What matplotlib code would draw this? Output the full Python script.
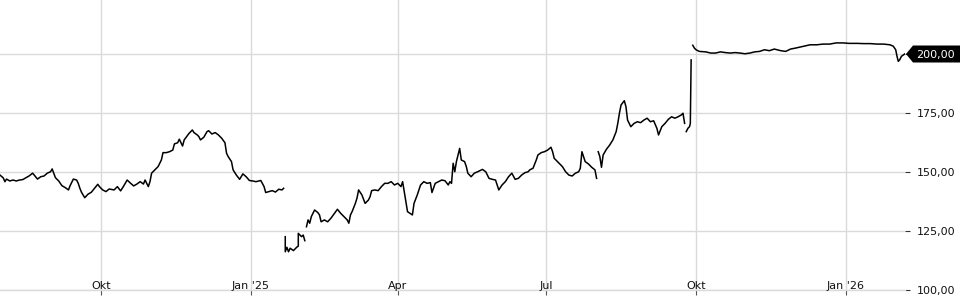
import numpy as np
import pandas as pd
import matplotlib
matplotlib.use("Agg")
import matplotlib.pyplot as plt
import matplotlib.transforms as mtransforms
from matplotlib.patches import Polygon

# ------------------------------
# Data
# day offsets are counted from 31 Jul 2024, None = gap in the price feed
# ------------------------------
start_date = pd.Timestamp("2024-07-31")

days = [
    # Aug 2024 - Jan 2025
    0, 2, 3, 4, 6, 8, 10, 12, 14, 16, 18, 20, 21, 23, 25, 27, 29, 31, 32, 33,
    34, 36, 38, 40, 42, 43, 45, 47, 48, 49, 50, 52, 54, 56, 58, 60, 61, 63, 65, 67,
    70, 72, 74, 76, 78, 80, 82, 84, 86, 88, 89, 91, 92, 93, 95, 97, 99, 100, 102, 104,
    106, 107, 109, 110, 112, 113, 116, 118, 119, 121, 122, 123, 125, 127, 128, 130, 132, 134, 136, 138,
    139, 140, 142, 143, 145, 147, 149, 151, 153, 155, 157, 160, 162, 163, 165, 167, 169, 171, 173, 174,
    174,
    # late Jan / Feb 2025
    175, 175, 176, 177, 178, 180, 182, 183, 183, 185, 186, 187,
    187,
    # Feb - Aug 2025
    188, 189, 190, 191, 193, 195, 196, 197, 199, 201, 203, 206, 207, 209, 211, 213, 214, 215, 216, 218,
    219, 220, 222, 224, 226, 227, 228, 230, 232, 234, 236, 238, 240, 242, 244, 246, 247, 249, 250, 253,
    254, 256, 258, 260, 262, 264, 265, 267, 269, 271, 273, 275, 276, 277, 278, 279, 280, 282, 283, 285,
    286, 287, 289, 291, 293, 296, 298, 300, 302, 304, 306, 308, 310, 312, 314, 316, 318, 320, 322, 324,
    325, 327, 329, 330, 332, 334, 336, 338, 339, 340, 343, 345, 347, 349, 351, 353, 355, 356, 357, 359,
    361, 363, 365, 366,
    366,
    # Aug - Sep 2025
    367, 368, 369, 370, 372, 374, 376, 378, 379, 380, 381, 383, 384, 385, 387, 389, 391, 393, 395, 397,
    399, 401, 403, 404, 406, 408, 410, 412, 414, 416, 418, 419, 420,
    420,
    421, 422, 423, 423.5, 424,
    424,
    # Oct 2025 - Feb 2026
    425, 426, 427, 429, 433, 436, 439, 442, 445, 448, 451, 454, 457, 460, 463, 466, 469, 472, 475, 479,
    482, 485, 488, 493, 497, 501, 505, 509, 513, 517, 521, 526, 530, 534, 538, 542, 546, 548, 549.5, 550.3,
    551.1, 552, 553, 555,
]

prices = [
    148.7, 147.5, 145.9, 147.0, 146.2, 146.6, 146.2, 146.6, 146.8, 147.6, 148.4, 149.5, 148.7, 147.0, 148.0, 148.3, 149.5, 150.1, 151.3, 149.5,
    147.6, 146.2, 144.2, 143.4, 142.4, 144.2, 147.0, 146.6, 145.2, 143.1, 141.4, 139.1, 140.6, 141.4, 143.1, 144.8, 143.8, 142.4, 141.7, 142.8,
    142.4, 143.8, 142.0, 144.2, 146.6, 145.3, 144.1, 144.9, 145.9, 144.9, 146.6, 143.8, 145.9, 149.5, 150.9, 152.3, 155.1, 158.2, 158.2, 158.6,
    159.3, 161.9, 162.4, 163.9, 161.0, 163.6, 166.4, 167.8, 166.7, 165.7, 165.0, 163.6, 164.7, 167.1, 167.5, 166.1, 166.7, 165.7, 164.3, 162.4,
    157.9, 156.5, 154.4, 150.9, 148.7, 146.9, 149.2, 148.0, 146.4, 146.2, 145.9, 146.4, 143.8, 141.3, 141.7, 142.1, 141.5, 142.7, 142.4, 143.1,
    None,
    122.6, 116.2, 118.1, 116.2, 117.7, 116.7, 118.1, 118.6, 124.0, 122.6, 123.3, 120.9,
    None,
    126.8, 129.7, 128.3, 131.1, 133.9, 132.8, 131.8, 128.9, 129.7, 128.9, 130.4, 133.2, 134.2, 132.5, 131.1, 129.7, 128.3, 131.8, 133.2, 136.7,
    138.9, 142.4, 140.3, 136.7, 138.1, 139.5, 142.1, 142.4, 142.1, 143.8, 145.2, 145.2, 145.9, 144.5, 145.2, 143.8, 145.9, 137.5, 133.2, 131.8,
    136.7, 140.3, 144.5, 145.9, 145.2, 145.5, 141.3, 145.2, 145.9, 146.6, 146.3, 144.5, 145.9, 145.2, 153.7, 150.1, 154.4, 160.0, 155.1, 154.4,
    152.5, 149.5, 148.0, 149.5, 150.1, 151.1, 150.1, 147.3, 146.9, 146.6, 142.4, 144.5, 145.9, 148.0, 149.5, 146.9, 147.3, 148.7, 149.7, 150.1,
    150.9, 151.6, 155.1, 157.2, 158.2, 158.6, 159.3, 160.5, 158.6, 155.8, 153.7, 152.3, 150.1, 148.7, 148.3, 149.5, 150.1, 151.6, 158.6, 154.4,
    153.4, 152.0, 150.9, 147.3,
    None,
    158.6, 156.5, 152.0, 157.2, 159.6, 161.4, 163.6, 167.1, 170.6, 174.9, 178.4, 180.2, 177.7, 172.0, 169.2, 170.6, 171.3, 170.9, 172.0, 172.8,
    171.3, 171.7, 168.5, 165.7, 169.2, 170.6, 172.3, 173.4, 172.8, 173.4, 174.2, 174.9, 170.6,
    None,
    167.1, 168.5, 169.2, 170.6, 197.5,
    None,
    203.7, 202.5, 201.8, 201.1, 200.9, 200.4, 200.4, 200.9, 200.6, 200.4, 200.6, 200.4, 200.1, 200.4, 200.9, 201.1, 201.8, 201.4, 202.1, 201.4,
    201.1, 202.1, 202.5, 203.3, 203.9, 203.9, 204.2, 204.2, 204.7, 204.7, 204.5, 204.5, 204.4, 204.4, 204.2, 204.2, 203.9, 203.3, 201.8, 199.0,
    196.9, 197.6, 199.0, 200.0,
]

tick_dates = ["2024-10-01", "2025-01-01", "2025-04-01", "2025-07-01", "2025-10-01", "2026-01-01"]
tick_labels = ["Okt", "Jan '25", "Apr", "Jul", "Okt", "Jan '26"]
y_ticks = [100, 125, 150, 175, 200]
last_price = 200.0

# ------------------------------
# Plot
# ------------------------------
W, H = 960, 300
fig = plt.figure(figsize=(W / 100, H / 100), dpi=100)
ax = fig.add_axes([0, 10 / H, 905 / W, 290 / H])

dates = start_date + pd.to_timedelta(np.array(days, dtype=float), unit="D")
values = np.array(prices, dtype=float)

grid_color = "#dadada"
ax.plot(dates, values, color="black", linewidth=1.1, zorder=3)

ax.set_xlim(start_date, start_date + pd.Timedelta(days=555.2))
ax.set_ylim(100, 100 + 290 * 25 / 59)

ax.set_xticks(pd.to_datetime(tick_dates))
ax.set_xticklabels([])
ax.set_yticks(y_ticks)
ax.set_yticklabels([f"{v:.2f}".replace(".", ",") for v in y_ticks])

ax.grid(True, color=grid_color, linewidth=1)
for side in ["top", "left", "right"]:
    ax.spines[side].set_visible(False)
ax.spines["bottom"].set_color(grid_color)
ax.spines["bottom"].set_linewidth(1)

ax.yaxis.tick_right()
ax.tick_params(axis="y", length=3.5, pad=5, labelsize=8, color="#333333", labelcolor="#111111")
ax.tick_params(axis="x", length=3.6, direction="out", color="#555555")

# x labels sit just above the bottom line
for d, lab in zip(pd.to_datetime(tick_dates), tick_labels):
    ax.annotate(lab, xy=(d, 0), xycoords=("data", "axes fraction"),
                xytext=(0, 1), textcoords="offset points",
                ha="center", va="baseline", fontsize=8, color="#111111")

# last price tag on the right axis
fig.canvas.draw()
px, py = ax.transData.transform((ax.get_xlim()[1], last_price))
half = 8.5
tag = Polygon([(px + 1, py), (px + 8, py + half), (W, py + half), (W, py - half), (px + 8, py - half)],
              closed=True, facecolor="black", edgecolor="none",
              transform=mtransforms.IdentityTransform(), zorder=5)
fig.add_artist(tag)
fig.text((px + 11) / W, py / H, f"{last_price:.2f}".replace(".", ","),
         color="white", fontsize=8, ha="left", va="center_baseline", zorder=6)

fig.savefig("out.png", dpi=100)
